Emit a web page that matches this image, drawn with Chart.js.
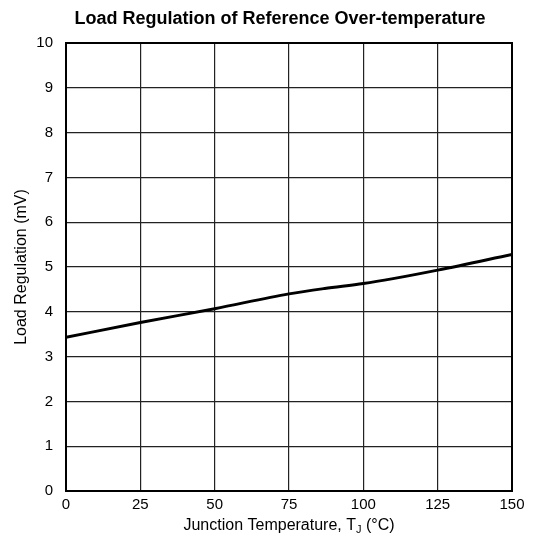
<!DOCTYPE html>
<html>
<head>
<meta charset="utf-8">
<script src="https://cdn.jsdelivr.net/npm/chart.js@4"></script>
<style>
html,body{margin:0;padding:0;background:#fff;}
#wrap{width:536px;height:554px;}
</style>
</head>
<body>
<div id="wrap"><canvas id="c" width="536" height="554"></canvas></div>
<script>
const FONT = '"Liberation Sans Narrow", "Arial Narrow", "Liberation Sans", Arial, sans-serif';
const temperatures = [0, 25, 50, 75, 87, 100, 110, 125, 150];
const loadRegulation = [3.43, 3.76, 4.07, 4.40, 4.52, 4.63, 4.74, 4.93, 5.28];
const xTicks = [0, 25, 50, 75, 100, 125, 150];
const yTicks = [0, 1, 2, 3, 4, 5, 6, 7, 8, 9, 10];
const titleText = 'Load Regulation of Reference Over-temperature';
const yTitle = 'Load Regulation (mV)';
const xTitleMain = 'Junction Temperature, T';
const xTitleSub = 'J';
const xTitleEnd = ' (°C)';

const points = temperatures.map((t, i) => ({x: t, y: loadRegulation[i]}));

const framePlugin = {
  id: 'frame',
  afterLayout(chart) {
    if (chart.titleBlock) {
      chart.titleBlock.left = 48;
      chart.titleBlock.right = 512;
    }
  },
  afterDatasetsDraw(chart) {
    const {ctx, chartArea: a} = chart;
    ctx.save();
    ctx.strokeStyle = '#000';
    ctx.lineWidth = 2;
    ctx.strokeRect(a.left, a.top, a.right - a.left, a.bottom - a.top);
    ctx.restore();
  },
  afterDraw(chart) {
    const {ctx, chartArea: a} = chart;
    ctx.save();
    ctx.fillStyle = '#000';
    ctx.textBaseline = 'alphabetic';
    const f1 = '16px ' + FONT, f2 = '11px ' + FONT;
    ctx.font = f1;
    const w1 = ctx.measureText(xTitleMain).width;
    const w3 = ctx.measureText(xTitleEnd).width;
    ctx.font = f2;
    const w2 = ctx.measureText(xTitleSub).width;
    const total = w1 + w2 + w3;
    const cx = (a.left + a.right) / 2;
    let x = cx - total / 2;
    const y = 530;
    ctx.font = f1;
    ctx.fillText(xTitleMain, x, y);
    x += w1;
    ctx.font = f2;
    ctx.fillText(xTitleSub, x, y + 3);
    x += w2;
    ctx.font = f1;
    ctx.fillText(xTitleEnd, x, y);
    ctx.restore();
  }
};

new Chart(document.getElementById('c'), {
  type: 'line',
  data: {
    datasets: [{
      data: points,
      borderColor: '#000',
      borderWidth: 3,
      pointRadius: 0,
      cubicInterpolationMode: 'monotone',
      fill: false
    }]
  },
  options: {
    responsive: false,
    animation: false,
    layout: {padding: {left: 0, right: 24, top: 0, bottom: 0}},
    plugins: {
      legend: {display: false},
      tooltip: {enabled: false},
      title: {
        display: true,
        text: titleText,
        color: '#000',
        font: {family: FONT, size: 18, weight: 'bold'},
        padding: {top: 8, bottom: 13.4}
      }
    },
    scales: {
      x: {
        type: 'linear',
        min: 0, max: 150,
        afterBuildTicks(s) { s.ticks = xTicks.map(v => ({value: v})); },
        afterFit(s) { s.height = 63; },
        grid: {color: '#222', lineWidth: 1.2, drawTicks: false},
        border: {display: false},
        ticks: {color: '#000', font: {family: FONT, size: 15}, padding: 5, maxRotation: 0, autoSkip: false}
      },
      y: {
        min: 0, max: 10,
        afterBuildTicks(s) { s.ticks = yTicks.map(v => ({value: v})); },
        afterFit(s) { s.width = 66; },
        grid: {color: '#222', lineWidth: 1.2, drawTicks: false},
        border: {display: false},
        ticks: {color: '#000', font: {family: FONT, size: 15}, padding: 13, autoSkip: false},
        title: {display: true, text: yTitle, color: '#000', font: {family: FONT, size: 16}, padding: {top: 12, bottom: 0}}
      }
    }
  },
  plugins: [framePlugin]
});
</script>
</body>
</html>
